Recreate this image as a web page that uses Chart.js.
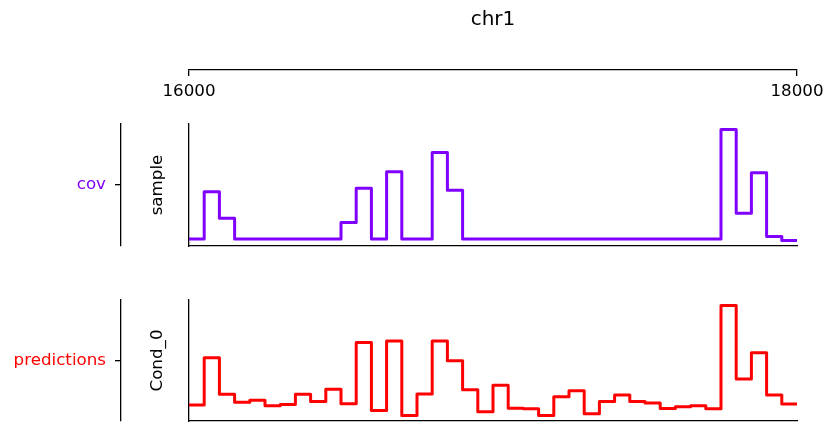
<!DOCTYPE html>
<html>
<head>
<meta charset="utf-8">
<script src="https://cdn.jsdelivr.net/npm/chart.js@4"></script>
<style>
  html, body { margin: 0; padding: 0; background: #ffffff; }
  #wrap { position: relative; width: 825px; height: 423px; }
  canvas { position: absolute; left: 0; top: 0; }
</style>
</head>
<body>
<div id="wrap">
  <canvas id="header" width="825" height="423"></canvas>
  <canvas id="panel1" width="825" height="423"></canvas>
  <canvas id="panel2" width="825" height="423"></canvas>
</div>
<script>
// ---------- data ----------
const chromName = 'chr1';
const xTickValues = [16000, 18000];
const binEdges = [16000, 16050, 16100, 16150, 16200, 16250, 16300, 16350, 16400, 16450,
                  16500, 16550, 16600, 16650, 16700, 16750, 16800, 16850, 16900, 16950,
                  17000, 17050, 17100, 17150, 17200, 17250, 17300, 17350, 17400, 17450,
                  17500, 17550, 17600, 17650, 17700, 17750, 17800, 17850, 17900, 17950, 18000];
const covTrackLabel = 'cov';
const covSampleLabel = 'sample';
const covValues = [0.13, 4.41, 2.02, 0.13, 0.13, 0.13, 0.13, 0.13, 0.13, 0.13,
                   1.62, 4.72, 0.13, 6.22, 0.13, 0.13, 7.96, 4.54, 0.13, 0.13,
                   0.13, 0.13, 0.13, 0.13, 0.13, 0.13, 0.13, 0.13, 0.13, 0.13,
                   0.13, 0.13, 0.13, 0.13, 0.13, 10.04, 2.47, 6.13, 0.36, 0.00];
const predTrackLabel = 'predictions';
const predSampleLabel = 'Cond_0';
const predValues = [1.43, 5.75, 2.43, 1.70, 1.88, 1.36, 1.48, 2.43, 1.75, 2.88,
                    1.55, 7.15, 0.94, 7.27, 0.48, 2.45, 7.27, 5.48, 2.82, 0.82,
                    3.25, 1.15, 1.09, 0.48, 2.18, 2.73, 0.64, 1.75, 2.36, 1.75,
                    1.61, 1.12, 1.27, 1.36, 1.09, 10.52, 3.82, 6.21, 2.36, 1.52];

// ---------- styling ----------
const FONT = 'DejaVu Sans';
const COV_COLOR = '#8000ff';
const PRED_COLOR = '#ff0000';
const W = 825, H = 423;
const PLOT_LEFT = 189, PLOT_RIGHT = 797;
const OUTER_AXIS_X = 121;

const xMin = binEdges[0], xMax = binEdges[binEdges.length - 1];

function noPad(s) { s.paddingLeft = 0; s.paddingRight = 0; s.paddingTop = 0; s.paddingBottom = 0; }

// Header: title + top coordinate axis
new Chart(document.getElementById('header'), {
  type: 'line',
  data: { datasets: [] },
  options: {
    responsive: false,
    animation: false,
    layout: { padding: { left: PLOT_LEFT, right: W - PLOT_RIGHT, top: 0, bottom: H - 70 - 40 } },
    plugins: {
      legend: { display: false },
      tooltip: { enabled: false },
      title: {
        display: true, text: chromName, fullSize: false,
        color: '#000', font: { family: FONT, size: 20, weight: 'normal' },
        padding: { top: 8, bottom: 8 }
      }
    },
    scales: {
      x: {
        type: 'linear', position: 'bottom', min: xMin, max: xMax,
        afterBuildTicks: s => { s.ticks = xTickValues.map(v => ({ value: v })); },
        afterFit: s => { s.height = 40; noPad(s); },
        ticks: {
          callback: v => String(v), color: '#000', padding: 6,
          font: { family: FONT, size: 16.7 }, maxRotation: 0, autoSkip: false
        },
        grid: { display: true, drawOnChartArea: false, drawTicks: true, tickLength: 6, color: '#000', lineWidth: 1.3 },
        border: { display: true, color: '#000', width: 1.3 }
      },
      y: { display: false, min: 0, max: 1 }
    }
  }
});

function makePanel(canvasId, values, color, trackLabel, sampleLabel, areaTop, areaBottom) {
  const vmin = Math.min(...values), vmax = Math.max(...values);
  const pad = (vmax - vmin) * 0.05;
  const points = binEdges.map((x, i) => ({ x: x, y: values[Math.min(i, values.length - 1)] }));
  return new Chart(document.getElementById(canvasId), {
    type: 'line',
    data: {
      datasets: [{
        data: points,
        stepped: 'before',
        borderColor: color,
        borderWidth: 3,
        borderJoinStyle: 'round',
        pointRadius: 0,
        fill: false,
        yAxisID: 'y'
      }]
    },
    options: {
      responsive: false,
      animation: false,
      layout: { padding: { left: OUTER_AXIS_X - 110, right: W - PLOT_RIGHT, top: areaTop, bottom: H - areaBottom } },
      plugins: { legend: { display: false }, tooltip: { enabled: false }, title: { display: false } },
      scales: {
        x: {
          type: 'linear', position: 'bottom', min: xMin, max: xMax,
          ticks: { display: false },
          grid: { display: false },
          border: { display: true, color: '#000', width: 1.3 },
          afterFit: s => { s.height = 0; noPad(s); }
        },
        y: {
          type: 'linear', position: 'left', weight: 1,
          min: vmin - pad, max: vmax + pad,
          ticks: { display: false },
          grid: { display: false },
          border: { display: true, color: '#000', width: 1.3 },
          title: {
            display: true, text: sampleLabel, color: '#000',
            font: { family: FONT, size: 16.7 }, padding: { top: 27, bottom: 0 }
          },
          afterFit: s => { s.width = PLOT_LEFT - OUTER_AXIS_X; noPad(s); }
        },
        outer: {
          type: 'linear', position: 'left', weight: 2,
          min: 0, max: 1,
          afterBuildTicks: s => { s.ticks = [{ value: 0.5 }]; },
          afterFit: s => { s.width = 110; noPad(s); },
          ticks: {
            callback: () => trackLabel, color: color, padding: 9,
            font: { family: FONT, size: 16.7 }, autoSkip: false
          },
          grid: { display: true, drawOnChartArea: false, drawTicks: true, tickLength: 6, color: '#000', lineWidth: 1.3 },
          border: { display: true, color: '#000', width: 1.3 }
        }
      }
    }
  });
}

makePanel('panel1', covValues, COV_COLOR, covTrackLabel, covSampleLabel, 124, 246);
makePanel('panel2', predValues, PRED_COLOR, predTrackLabel, predSampleLabel, 300, 421);
</script>
</body>
</html>
